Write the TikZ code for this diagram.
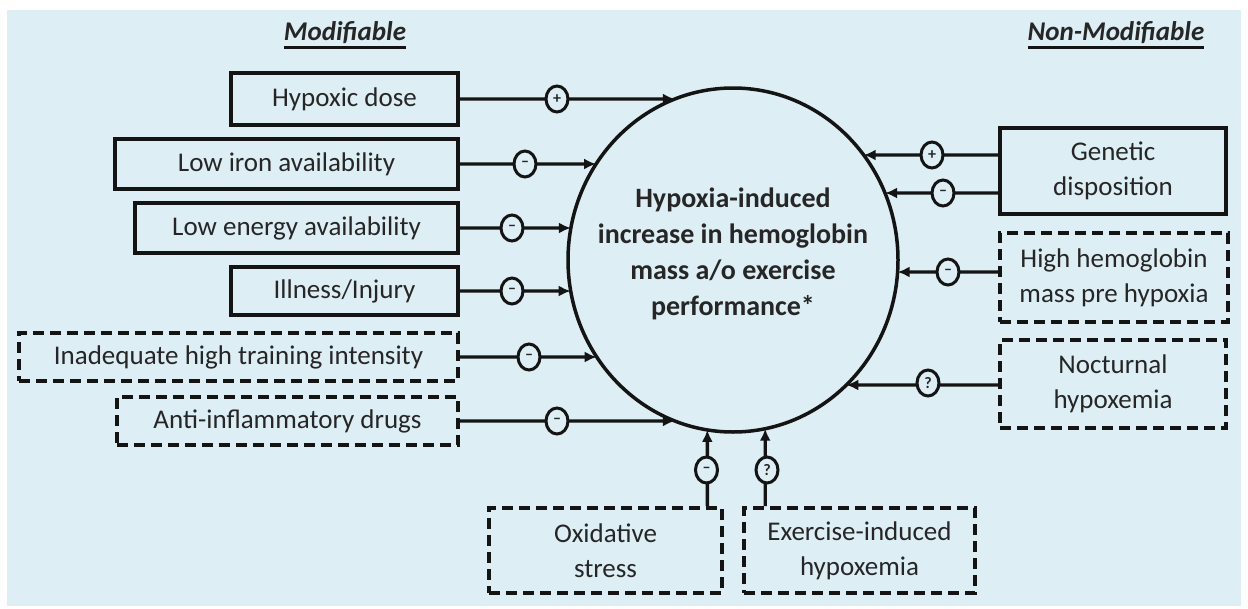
\documentclass[tikz,border=0pt]{standalone}
\usepackage{fontspec}
\setmainfont{Carlito}
\usetikzlibrary{shapes.geometric,arrows.meta,intersections}
\definecolor{bg}{RGB}{221,238,245}
\definecolor{txt}{RGB}{38,38,38}
\definecolor{ln}{RGB}{20,20,20}
\begin{document}
\begin{tikzpicture}[x=1pt,y=-1pt,
  box/.style={draw=ln, line width=3.6pt, text=txt, align=center, inner sep=0pt, font=\fontsize{27}{35}\selectfont},
  dbox/.style={box, dash pattern=on 11pt off 6pt},
  sgn/.style={draw=ln, ellipse, line width=3pt, fill=bg, minimum width=22pt, minimum height=26pt, inner sep=0pt, text=txt, font=\fontsize{16}{16}\selectfont\bfseries},
  arr/.style={draw=ln, line width=3.4pt, -{Latex[length=12pt,width=11pt]}},
  hdr/.style={text=txt, font=\fontsize{27}{32}\selectfont\bfseries\itshape, inner sep=0pt}
]
\fill[white] (0,0) rectangle (1248,608);
\fill[bg] (7,10) rectangle (1241,606);
\useasboundingbox (0,0) rectangle (1248,608);

% headers
\node[hdr, anchor=base] (m) at (345,40) {Modifiable};
\draw[draw=ln, line width=3pt] ([yshift=-7pt]m.base west) -- ([yshift=-7pt]m.base east);
\node[hdr, anchor=base] (n) at (1116,40) {Non-Modifiable};
\draw[draw=ln, line width=3pt] ([yshift=-7pt]n.base west) -- ([yshift=-7pt]n.base east);

% central ellipse
\node[ellipse, minimum width=330pt, minimum height=344pt, inner sep=0pt] (c) at (733,260) {};
\draw[draw=ln, line width=3.5pt, name path=E] (c.center) ellipse [x radius=165pt, y radius=172pt];
\node[text=txt, align=center, font=\fontsize{28}{36}\selectfont\bfseries] (ct) at (733,254) {Hypoxia-induced\\increase in hemoglobin\\mass a/o exercise\\performance*};

% left boxes
\node[box, minimum width=227pt, minimum height=52pt] (b1) at (344.5,99) {Hypoxic dose};
\node[box, minimum width=343pt, minimum height=50pt] (b2) at (286.5,164) {Low iron availability};
\node[box, minimum width=323pt, minimum height=50pt] (b3) at (296.5,228) {Low energy availability};
\node[box, minimum width=227pt, minimum height=48pt] (b4) at (344.5,291) {Illness/Injury};
\node[dbox, minimum width=439pt, minimum height=48pt] (b5) at (238.5,357) {Inadequate high training intensity};
\node[dbox, minimum width=341pt, minimum height=48pt] (b6) at (287.5,421) {Anti-inflammatory drugs};

% right boxes
\node[box, minimum width=226pt, minimum height=86pt] (b7) at (1113,171) {Genetic\\disposition};
\node[dbox, minimum width=228pt, minimum height=89pt] (b8) at (1114,277.5) {High hemoglobin\\mass pre hypoxia};
\node[dbox, minimum width=226pt, minimum height=88pt] (b9) at (1113,384) {Nocturnal\\hypoxemia};

% bottom boxes
\node[dbox, minimum width=233pt, minimum height=85pt] (b10) at (605.5,550.5) {Oxidative\\stress};
\node[dbox, minimum width=231pt, minimum height=85pt] (b11) at (859.5,550.5) {Exercise-induced\\hypoxemia};

% connector start points
\coordinate (p1) at (b1.east);
\coordinate (p2) at (b2.east);
\coordinate (p3) at (b3.east);
\coordinate (p4) at (b4.east);
\coordinate (p5) at (b5.east);
\coordinate (p6) at (b6.east);
\coordinate (p7) at ([yshift=16pt]b7.west);
\coordinate (p8) at ([yshift=-22pt]b7.west);
\coordinate (p9) at ([yshift=5.5pt]b8.west);
\coordinate (p10) at ([yshift=-1pt]b9.west);
\coordinate (p11) at ([xshift=-16.5pt]b10.north east);
\coordinate (p12) at ([xshift=23pt]b11.north west);

% helper rays
\path[name path=h1] (p1) -- ++(400,0);
\path[name path=h2] (p2) -- ++(400,0);
\path[name path=h3] (p3) -- ++(400,0);
\path[name path=h4] (p4) -- ++(400,0);
\path[name path=h5] (p5) -- ++(400,0);
\path[name path=h6] (p6) -- ++(400,0);
\path[name path=h7] (p7) -- ++(-400,0);
\path[name path=h8] (p8) -- ++(-400,0);
\path[name path=h9] (p9) -- ++(-400,0);
\path[name path=h10] (p10) -- ++(-400,0);
\path[name path=h11] (p11) -- ++(0,-250);
\path[name path=h12] (p12) -- ++(0,-250);

% connectors
\draw[arr, name intersections={of=E and h1, sort by=h1}] (p1) -- (intersection-1);
\draw[arr, name intersections={of=E and h2, sort by=h2}] (p2) -- (intersection-1);
\draw[arr, name intersections={of=E and h3, sort by=h3}] (p3) -- (intersection-1);
\draw[arr, name intersections={of=E and h4, sort by=h4}] (p4) -- (intersection-1);
\draw[arr, name intersections={of=E and h5, sort by=h5}] (p5) -- (intersection-1);
\draw[arr, name intersections={of=E and h6, sort by=h6}] (p6) -- (intersection-1);
\draw[arr, name intersections={of=E and h7, sort by=h7}] (p7) -- (intersection-1);
\draw[arr, name intersections={of=E and h8, sort by=h8}] (p8) -- (intersection-1);
\draw[arr, name intersections={of=E and h9, sort by=h9}] (p9) -- (intersection-1);
\draw[arr, name intersections={of=E and h10, sort by=h10}] (p10) -- (intersection-1);
\draw[arr, name intersections={of=E and h11, sort by=h11}] (p11) -- (intersection-1);
\draw[arr, name intersections={of=E and h12, sort by=h12}] (p12) -- (intersection-1);

% sign markers (on the connectors)
\node[sgn] (s1) at (557,99) {+};
\node[sgn] (s2) at (525,164) {--};
\node[sgn] (s3) at (512,228) {--};
\node[sgn] (s4) at (512,291) {--};
\node[sgn] (s5) at (529,357) {--};
\node[sgn] (s6) at (557,421) {--};
\node[sgn] (s7) at (932,155) {+};
\node[sgn] (s8) at (943,193) {--};
\node[sgn] (s9) at (948,272) {--};
\node[sgn] (s10) at (928,383) {?};
\node[sgn] (s11) at (706.5,470) {--};
\node[sgn] (s12) at (767,470) {?};
\end{tikzpicture}
\end{document}
